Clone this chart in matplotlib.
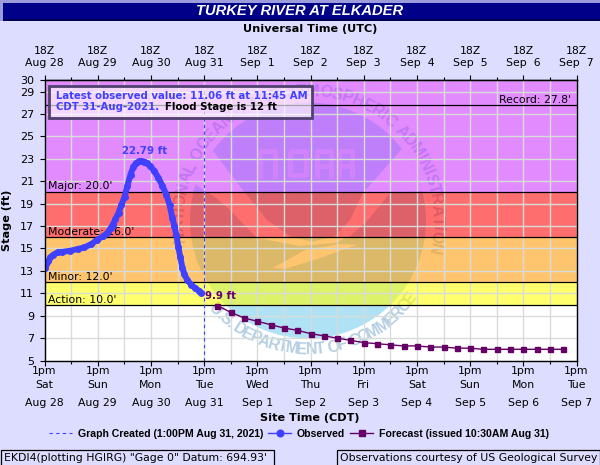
#!/usr/bin/env python3

import numpy as np
import matplotlib
matplotlib.use('Agg')
import matplotlib.pyplot as plt
from matplotlib.patches import Circle, Polygon, Rectangle
from matplotlib.font_manager import FontProperties
from matplotlib.textpath import text_to_path

# hours since 1pm Aug 28
obs_hours = [0, 0.9, 1.8, 2.7, 4, 5.9, 8.1, 11.7, 14.9, 18, 21.2, 23.9, 26.6, 28.4, 29.8, 30.7, 32, 33.4,
             34.7, 36.1, 37.4, 38.8, 40.1, 41.5, 42.8, 43.7, 45.1, 46.4, 47.8, 49.6, 51.4, 53.2, 55, 56.4,
             57.7, 58.6, 59.5, 60.4, 61.3, 62.2, 63.1, 64.5, 66.3, 68.1, 69.5, 70.75]
obs_stage = [13.3, 13.6, 13.9, 14.2, 14.45, 14.65, 14.7, 14.8, 14.95, 15.1, 15.4, 15.8, 16.1, 16.4, 16.8, 17.1, 17.6, 18.2,
             18.9, 19.6, 20.6, 21.6, 22.3, 22.65, 22.78, 22.79, 22.75, 22.6, 22.35, 21.9, 21.3, 20.6, 19.8, 18.9,
             17.7, 17.0, 16.2, 15.1, 14.2, 13.3, 12.7, 12.15, 11.75, 11.45, 11.25, 11.06]
fcst_hours = [78, 84, 90, 96, 102, 108, 114, 120, 126, 132, 138, 144, 150, 156, 162, 168, 174, 180, 186, 192,
              198, 204, 210, 216, 222, 228, 234]
fcst_stage = [9.9, 9.3, 8.8, 8.5, 8.2, 7.9, 7.7, 7.4, 7.2, 7.0, 6.8, 6.6, 6.5, 6.4, 6.3, 6.3, 6.2, 6.2, 6.1, 6.1,
              6.0, 6.0, 6.0, 6.0, 6.0, 6.0, 6.0]
created_hour = 72

band_edges = [5, 10, 12, 16, 20, 30]
band_colors = [None, '#ffff00', '#ff9900', '#ff0000', '#cc33ff']
stage_lines = [10, 12, 16, 20, 27.8]
stage_names = ["Action: 10.0'", "Minor: 12.0'", "Moderate: 16.0'", "Major: 20.0'"]
stage_name_ys = [300, 277, 232, 186]

day_hours = list(range(0, 241, 24))
site_days = ['Sat', 'Sun', 'Mon', 'Tue', 'Wed', 'Thu', 'Fri', 'Sat', 'Sun', 'Mon', 'Tue']
date_labels = ['Aug 28', 'Aug 29', 'Aug 30', 'Aug 31', 'Sep  1', 'Sep  2', 'Sep  3', 'Sep  4', 'Sep  5', 'Sep  6', 'Sep  7']
stage_ticks = [5, 7, 9, 11, 13, 15, 17, 19, 21, 23, 25, 27, 29, 30]

bg = '#ddddff'
blue = '#4040ff'
purple = '#660066'
grid_c = '#d8dcd8'
logo_fill = '#b0e2f5'
logo_text = '#b4cfe4'
logo_letter = '#d6ecf8'
verdana = 'DejaVu Sans'
arial = 'Liberation Sans'

matplotlib.rcParams.update({'font.family': verdana, 'font.size': 7.8})

fig = plt.figure(figsize=(6, 4.65), dpi=100, facecolor=bg)
ax = fig.add_axes([44.5/600, (465-360.5)/465, 532/600, 280/465], zorder=2)
# pixel overlay for the frame pieces
px = fig.add_axes([0, 0, 1, 1], zorder=3)
px.set_xlim(0, 600)
px.set_ylim(465, 0)
px.axis('off')

ax.set_facecolor('white')


## faded logo, sits under the stage bands
cx, cy, r_disc, r_text = 308, 220.5, 118, 129

def arc_text(s, t0, t1, top, size=11.5):
    fp = FontProperties(family=arial, weight='bold', size=size)
    w = np.array([text_to_path.get_text_width_height_descent(c, fp, False)[0] for c in s])
    edges = np.concatenate([[0], np.cumsum(w)])
    mids = (edges[:-1] + edges[1:]) / 2 / edges[-1]
    for c, m in zip(s, mids):
        t = np.radians(t0 + (t1 - t0) * m)
        x = cx + r_text * np.sin(t)
        y = cy - r_text * np.cos(t) if top else cy + r_text * np.cos(t)
        rot = -np.degrees(t) if top else np.degrees(t)
        ax.text(x, y, c, transform=px.transData, rotation=rot, rotation_mode='anchor', ha='center', va='center',
                fontproperties=fp, color=logo_text, zorder=1.2)

disc = Circle((cx, cy), r_disc, transform=px.transData, fc=logo_fill, ec='none', zorder=1)
ax.add_patch(disc)

swoosh = [(205, 140), (245, 193), (267, 220), (290, 236), (312, 242), (335, 236), (350, 220), (363, 193), (408, 142),
          (440, 190), (390, 193), (368, 220), (350, 236), (335, 243), (300, 246), (257, 238), (230, 210), (215, 197), (185, 178)]
wing = [(273, 268), (305, 250), (340, 244), (357, 245), (345, 249), (320, 258), (285, 269)]
for shape in [swoosh, wing]:
    p = Polygon(shape, closed=True, transform=px.transData, fc='white', ec='none', zorder=1.1)
    ax.add_patch(p)
    p.set_clip_path(disc)

noaa = [[(260, 178), (260, 151), (275, 151), (275, 178)],
        [(290, 151), (306, 151), (306, 175), (290, 175), (290, 151)],
        [(317, 178), (317, 151), (331, 151), (331, 178)], [(317, 166), (331, 166)],
        [(339, 178), (339, 151), (352, 151), (352, 178)], [(339, 166), (352, 166)]]
for stroke in noaa:
    xs, ys = zip(*stroke)
    ax.plot(xs, ys, transform=px.transData, color=logo_letter, lw=3.6, solid_capstyle='butt', zorder=1.15)

arc_text('NATIONAL OCEANIC AND ATMOSPHERIC ADMINISTRATION', -100, 105, True)
arc_text('U.S. DEPARTMENT OF COMMERCE', -48, 55, False)

ax.set_xlim(0, 240)
ax.set_ylim(5, 30)

## stage bands
for lo, hi, c in zip(band_edges[:-1], band_edges[1:], band_colors):
    if c is not None:
        ax.axhspan(lo, hi, fc=c, ec='none', alpha=0.57, zorder=2)

ax.set_xticks(day_hours)
ax.set_xticks(np.arange(12, 240, 24), minor=True)
ax.set_yticks(stage_ticks)
ax.grid(True, which='both', color=grid_c, lw=1)
ax.set_axisbelow(False)  # grid above the bands (axis zorder 2.5)

for s in stage_lines:
    ax.axhline(s, color='k', lw=0.9, zorder=4)

ax.axvline(created_hour, color=blue, lw=0.8, ls=(0, (3, 3)), zorder=5, label='Graph Created (1:00PM Aug 31, 2021)')
ax.plot(obs_hours, obs_stage, color=blue, lw=4.3, solid_joinstyle='round', solid_capstyle='round', zorder=6)
ax.plot(obs_hours, obs_stage, color=blue, lw=1, marker='o', ms=4, mec=blue, zorder=6, label='Observed')
ax.plot(fcst_hours, fcst_stage, color=purple, lw=1, marker='s', ms=3.6, mec=purple, zorder=7,
        label='Forecast (issued 10:30AM Aug 31)')

ax.tick_params(axis='x', which='major', length=3.6, width=0.8, labelbottom=False)
ax.tick_params(axis='x', which='minor', length=2.2, width=0.8)
ax.tick_params(axis='y', length=3.6, width=0.8, pad=4, labelsize=8)
for sp in ax.spines.values():
    sp.set_linewidth(1)
    sp.set_zorder(8)

# top axis, 18Z is the same instant as 1pm CDT
top = ax.secondary_xaxis('top')
top.set_xticks(day_hours)
top.set_xticks(np.arange(12, 240, 24), minor=True)
top.set_xticklabels([])
top.tick_params(which='major', length=3.6, width=0.8)
top.tick_params(which='minor', length=2.2, width=0.8)
top.spines['top'].set_linewidth(1)

for h, d, date in zip(day_hours, site_days, date_labels):
    x = 44.5 + h * 532 / 240
    px.text(x, 371, '1pm', ha='center', va='center')
    px.text(x, 385, d, ha='center', va='center')
    px.text(x, 403, date.replace('  ', ' '), ha='center', va='center')
    px.text(x, 51, '18Z', ha='center', va='center')
    px.text(x, 63, date, ha='center', va='center')

for name, y in zip(stage_names, stage_name_ys):
    ax.text(48, y, name, ha='left', va='center', transform=px.transData, zorder=5)
ax.text(571, 100, "Record: 27.8'", ha='right', va='center', transform=px.transData, zorder=5)

ax.annotate('22.79 ft', (obs_hours[obs_stage.index(max(obs_stage))], max(obs_stage)), xytext=(3, 10),
            textcoords='offset pixels', ha='center', va='center', color=blue, fontweight='bold', fontsize=7.4, zorder=9)
ax.annotate('9.9 ft', (fcst_hours[0], fcst_stage[0]), xytext=(3, 10), textcoords='offset pixels', ha='center',
            va='center', color=purple, fontweight='bold', fontsize=7.4, zorder=9)


## frame pieces
px.add_patch(Rectangle((0, 0), 600, 3.5, fc='#9c9cdc', ec='none'))
px.add_patch(Rectangle((0, 3), 3, 18, fc='#9c9cdc', ec='none'))
px.add_patch(Rectangle((3, 3), 597, 16.5, fc='#000088', ec='none'))
px.add_patch(Rectangle((3, 19.5), 597, 2, fc='#000050', ec='none'))
px.text(300, 11, 'TURKEY RIVER AT ELKADER', ha='center', va='center', color='white', family=arial,
        fontweight='bold', fontstyle='italic', fontsize=10.6)
px.text(310, 29, 'Universal Time (UTC)', ha='center', va='center', fontweight='bold', fontsize=8.15)
px.text(310, 418, 'Site Time (CDT)', ha='center', va='center', fontweight='bold', fontsize=8.15, color='#000000')
px.text(7, 220, 'Stage (ft)', ha='center', va='center', rotation=90, fontweight='bold', fontsize=8.15)

px.add_patch(Rectangle((49, 86), 263, 32, fc='white', alpha=0.65, ec='none'))
px.add_patch(Rectangle((49, 86), 263, 32, fc='none', ec='#50406e', lw=2))
px.text(56, 96, 'Latest observed value: 11.06 ft at 11:45 AM', ha='left', va='center', color=blue, fontweight='bold', fontsize=7.3)
px.text(56, 107, 'CDT 31-Aug-2021.', ha='left', va='center', color=blue, fontweight='bold', fontsize=7.3)
px.text(165, 107, 'Flood Stage is 12 ft', ha='left', va='center', color='k', fontweight='bold', fontsize=7.3)

px.add_patch(Rectangle((0.5, 449.5), 273, 16, fc=bg, ec='k', lw=0.9))
px.text(4, 458, 'EKDI4(plotting HGIRG) "Gage 0" Datum: 694.93\'', ha='left', va='center')
px.add_patch(Rectangle((336.5, 449.5), 263, 16, fc=bg, ec='k', lw=0.9))
px.text(340, 458, 'Observations courtesy of US Geological Survey', ha='left', va='center')

handles, labels = ax.get_legend_handles_labels()
fig.legend(handles, labels, ncols=3, loc='center', bbox_to_anchor=(299/600, 1 - 434/465), frameon=False,
           prop=FontProperties(family=arial, weight='bold', size=7.6), handlelength=2.2, handletextpad=0.55,
           columnspacing=0.45, borderpad=0, borderaxespad=0, markerscale=1.2)

fig.savefig('out.png', dpi=100, facecolor=bg)
